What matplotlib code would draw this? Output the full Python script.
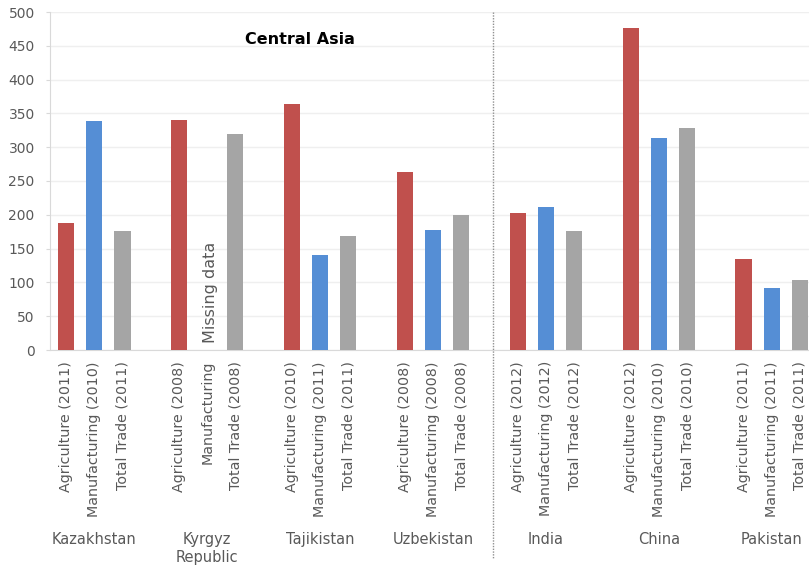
import numpy as np
import matplotlib
matplotlib.use("Agg")
import matplotlib.pyplot as plt
import matplotlib.transforms as mtransforms

countries = ["Kazakhstan", "Kyrgyz\nRepublic", "Tajikistan", "Uzbekistan", "India", "China", "Pakistan"]
agri_years = ["2011", "2008", "2010", "2008", "2012", "2012", "2011"]
manuf_years = ["2010", None, "2011", "2008", "2012", "2010", "2011"]
trade_years = ["2011", "2008", "2011", "2008", "2012", "2010", "2011"]
agri = [188, 340, 364, 263, 202, 476, 134]
manuf = [339, np.nan, 141, 177, 212, 313, 91]
trade = [176, 320, 169, 200, 176, 328, 104]

c_agri = "#C0504D"
c_manuf = "#558ED5"
c_trade = "#A5A5A5"
txt = "#595959"

fig = plt.figure(figsize=(8.09, 5.73), dpi=100)
ax = fig.add_axes([50 / 809, 1 - 350 / 573, 1 - 50 / 809, (350 - 12) / 573])

n = len(countries)
base = np.arange(n) * 4
w = 0.57
ax.bar(base + 0, agri, width=w, color=c_agri, zorder=3)
ax.bar(base + 1, manuf, width=w, color=c_manuf, zorder=3)
ax.bar(base + 2, trade, width=w, color=c_trade, zorder=3)

ticks, labels = [], []
for i in range(n):
    ticks += [base[i], base[i] + 1, base[i] + 2]
    labels.append(f"Agriculture ({agri_years[i]})")
    labels.append(f"Manufacturing ({manuf_years[i]})" if manuf_years[i] else "Manufacturing")
    labels.append(f"Total Trade ({trade_years[i]})")
ax.set_xticks(ticks)
ax.set_xticklabels(labels, rotation=90, fontsize=10.3, color=txt)
ax.tick_params(axis="x", length=0, pad=8)

ax.set_ylim(0, 500)
ax.set_yticks(np.arange(0, 501, 50))
ax.tick_params(axis="y", length=3, color="#D9D9D9", labelsize=10, labelcolor=txt, pad=8)
ax.set_xlim(-0.57, 26.32)

ax.grid(axis="y", color="#EFEFEF", linewidth=1, zorder=0)
for s in ["top", "right"]:
    ax.spines[s].set_visible(False)
for s in ["left", "bottom"]:
    ax.spines[s].set_color("#D9D9D9")

trans = mtransforms.blended_transform_factory(ax.transData, ax.transAxes)
for i, c in enumerate(countries):
    ax.text(base[i] + 1, -0.538, c, transform=trans, ha="center", va="top",
            fontsize=10.5, color=txt, linespacing=1.25)

ax.plot([15.13, 15.13], [1.0, -0.615], transform=trans, clip_on=False,
        color="#909090", linestyle=(0, (1, 1)), linewidth=1, zorder=4)

ax.text(8.29, 460, "Central Asia", ha="center", va="center", fontsize=11.5,
        fontweight="bold", color="black")
ax.text(5.1, 10, "Missing data", rotation=90, ha="center", va="bottom",
        fontsize=11.5, color=txt)

fig.savefig("out.png", dpi=100)
